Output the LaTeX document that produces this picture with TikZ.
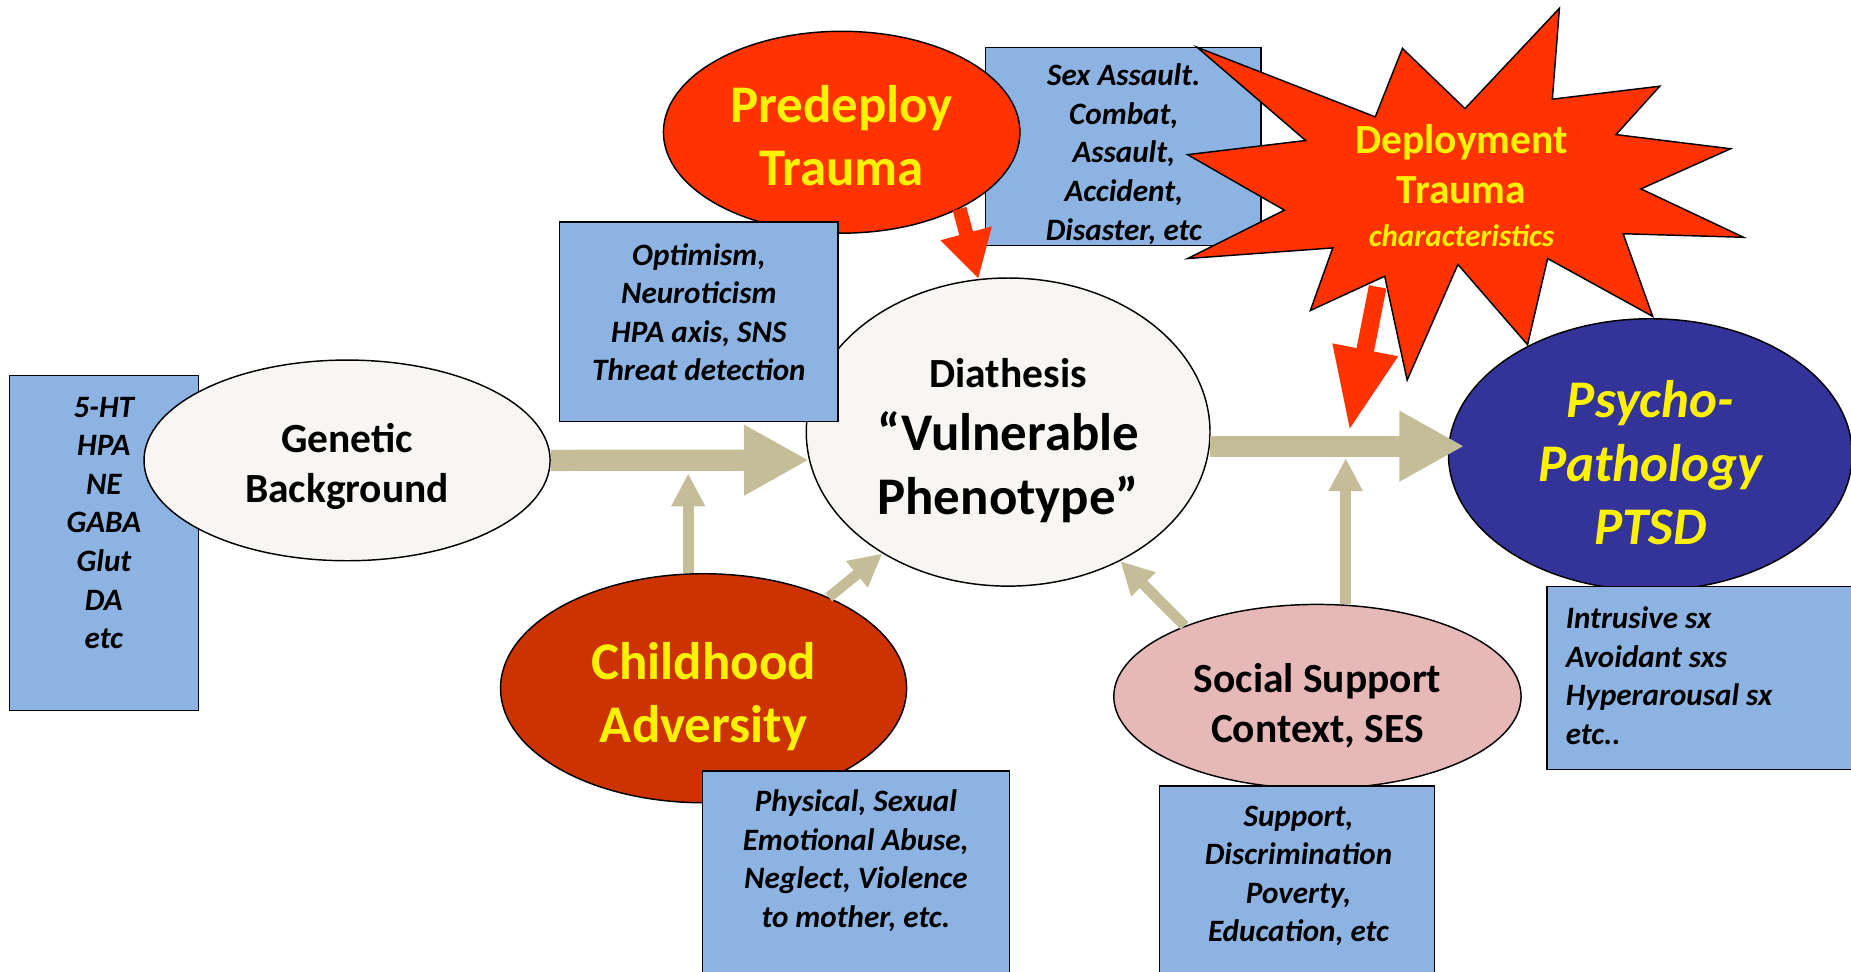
\documentclass[tikz,border=0pt]{standalone}
\usepackage{fontspec}
\setmainfont{Carlito}
\usetikzlibrary{arrows.meta,shapes.geometric}
\definecolor{boxblue}{HTML}{8DB3E2}
\definecolor{paper}{HTML}{F7F6F2}
\definecolor{flame}{HTML}{FF3300}
\definecolor{rust}{HTML}{CC3300}
\definecolor{rose}{HTML}{E6B9B8}
\definecolor{navy}{HTML}{333399}
\definecolor{khaki}{HTML}{C4BD97}
\newcommand{\fontsmall}{\fontsize{15}{18.6}\selectfont}
\newcommand{\fontmid}{\fontsize{20}{24.2}\selectfont}
\newcommand{\fontbig}{\fontsize{25.5}{30.5}\selectfont}
\newcommand{\headroom}[1]{\raisebox{#1}{\vphantom{l}}}

\begin{document}
\begin{tikzpicture}[x=0.2mm, y=-0.2mm,
  blob/.style={ellipse, draw=black, line width=0.7pt, inner sep=0pt, align=center, font=\fontmid\bfseries},
  infobox/.style={rectangle, draw=black, line width=0.7pt, fill=boxblue, inner sep=0pt},
  infotext/.style={align=center, inner sep=0pt, font=\fontsmall\bfseries\itshape},
  feed/.style={khaki, line width=3.6mm, -{Triangle[length=11mm, width=11.2mm]}},
  nudge/.style={khaki, line width=1.8mm, -{Triangle[length=5.6mm, width=5.4mm]}},
  hit/.style={flame, line width=2.4mm, -{Triangle[length=8mm, width=8.4mm]}}]
  \useasboundingbox (0,0) rectangle (1568,823);

  % left column
  \node[infobox, minimum width=32mm, minimum height=56.8mm] (chembox) at (88,460) {};
  \node[infotext] (chem) at (88,443) {5-HT\\HPA\\NE\\GABA\\Glut\\DA\\etc};
  \node[blob, fill=paper, minimum width=68.8mm, minimum height=34mm] (gen) at (294,390) {\headroom{2mm}Genetic\\Background};

  % centre
  \node[blob, fill=paper, minimum width=68.4mm, minimum height=52.2mm, font=\fontbig\bfseries]
    (dia) at (854,366) {{\fontmid\headroom{2.8mm}Diathesis}\\“Vulnerable\\Phenotype”};
  \node[infobox, minimum width=46.6mm, minimum height=33.6mm] (eventbox) at (951.5,124) {};
  \node[infotext] (event) at (952,130.5) {Sex Assault.\\Combat,\\Assault,\\Accident,\\Disaster, etc};
  \node[blob, fill=flame, text=yellow, minimum width=60.4mm, minimum height=34.2mm, font=\fontbig\bfseries]
    (pre) at (713,112) {\headroom{1.2mm}Predeploy\\Trauma};
  \node[infobox, minimum width=47.2mm, minimum height=33.8mm] (traitbox) at (592,272.5) {};
  \node[infotext] (trait) at (592,264.5) {Optimism,\\Neuroticism\\HPA axis, SNS\\Threat detection};

  % deployment burst
  \draw[fill=flame, draw=black, line width=0.7pt]
    plot[sharp cycle] coordinates {
      (1014,40) (1165,99) (1188,41) (1241,92) (1321,7) (1315,84)
      (1406,73) (1369,114) (1466,126) (1390,160) (1477,201) (1375,198)
      (1400,268) (1311,219) (1294,292) (1235,224) (1192,322) (1173,234)
      (1110,263) (1129,210) (1006,219) (1088,178) (1006,131) (1106,119)
    };
  \node[text=yellow, align=center, inner sep=0pt, font=\fontmid\bfseries]
    (deploy) at (1238,157) {Deployment\\Trauma\\[-3.6pt]{\fontsmall\itshape characteristics}};

  % right column
  \node[blob, fill=navy, text=yellow, minimum width=68.4mm, minimum height=46mm, font=\fontbig\bfseries\itshape]
    (ptsd) at (1398,385) {\headroom{2.8mm}Psycho-\\Pathology\\PTSD};
  \node[infobox, minimum width=52.2mm, minimum height=31mm] (symbox) at (1441,574.5) {};
  \node[infotext, align=left, anchor=west] (sym) at (1326,572.5) {Intrusive sx\\Avoidant sxs\\Hyperarousal sx\\etc..};

  % bottom
  \node[blob, fill=rust, text=yellow, minimum width=68.8mm, minimum height=38.8mm, font=\fontbig\bfseries]
    (child) at (596,583) {\headroom{2.8mm}Childhood\\Adversity};
  \node[infobox, minimum width=52mm, minimum height=35.4mm] (abusebox) at (725,741.5) {};
  \node[infotext] (abuse) at (725,729) {Physical, Sexual\\Emotional Abuse,\\Neglect, Violence\\to mother, etc.};
  \node[blob, fill=rose, minimum width=69mm, minimum height=31.2mm] (social) at (1116,590) {\headroom{3.2mm}Social Support\\Context, SES};
  \node[infobox, minimum width=46.6mm, minimum height=32.8mm] (sesbox) at (1098.5,748) {};
  \node[infotext] (ses) at (1100,742) {Support,\\Discrimination\\Poverty,\\Education, etc};

  % connectors
  \coordinate (jl) at (583,401);
  \coordinate (jr) at (1140,388);
  \coordinate (ptsdin) at ([xshift=2.8mm]ptsd.west);
  \coordinate (burst) at (1167,243);
  \coordinate (strike) at (1143,365);
  \draw[feed] (gen.east) -- (dia.188);
  \draw[feed] (dia.-4) -- (dia.-4 -| ptsdin);
  \draw[nudge] (child.north -| jl) -- (jl);
  \draw[nudge] (child.36) -- (dia.224);
  \draw[nudge] (social.152) -- (dia.-49);
  \draw[nudge] (social.north -| jr) -- (jr);
  \draw[hit] (pre.-33) -- (dia.101);
  \draw[hit, line width=3mm, -{Triangle[length=14mm, width=10.4mm]}] (burst) -- (strike);
\end{tikzpicture}
\end{document}
